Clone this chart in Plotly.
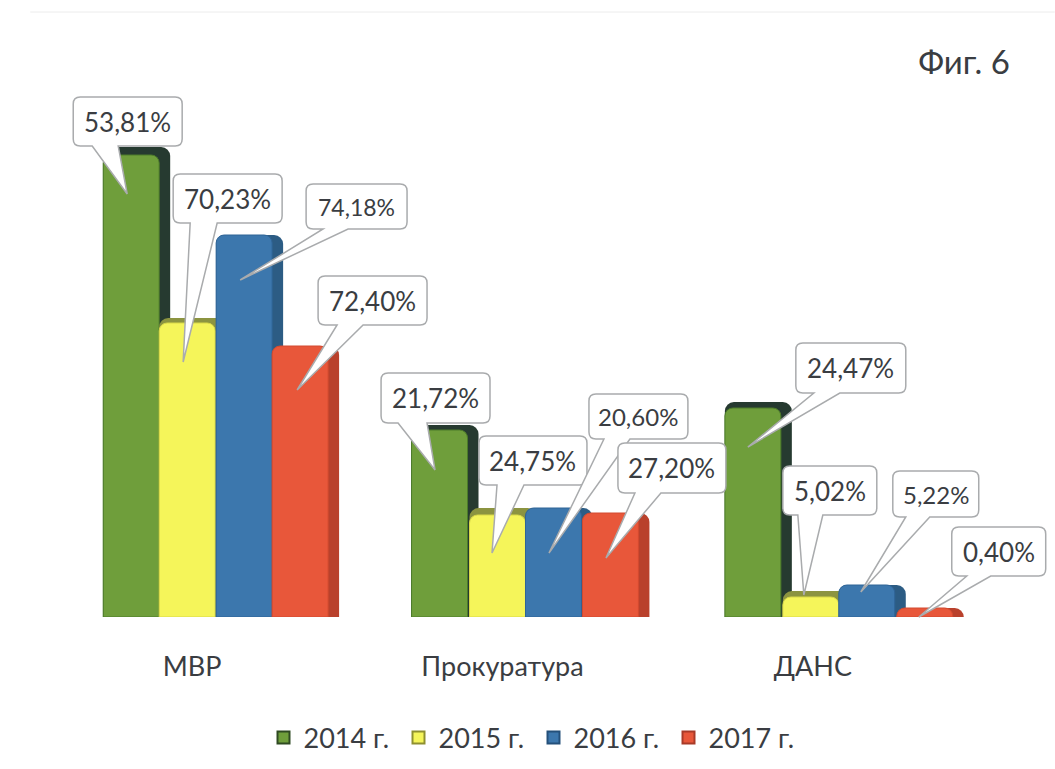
import plotly.graph_objects as go

categories = ["МВР", "Прокуратура", "ДАНС"]
years = ["2014 г.", "2015 г.", "2016 г.", "2017 г."]

# bar heights (their height does not follow the printed labels)
heights_2014 = [92.4, 37.4, 41.8]
heights_2015 = [58.8, 20.4, 4.0]
heights_2016 = [76.4, 21.8, 6.4]
heights_2017 = [54.2, 20.8, 1.8]

# rear (3-D depth) face heights
depth_2014 = [94.0, 38.4, 43.0]
depth_2015 = [59.8, 21.8, 5.2]
depth_2016 = [76.4, 21.8, 6.4]
depth_2017 = [54.2, 20.8, 1.8]

labels_2014 = ["53,81%", "21,72%", "24,47%"]
labels_2015 = ["70,23%", "24,75%", "5,02%"]
labels_2016 = ["74,18%", "20,60%", "5,22%"]
labels_2017 = ["72,40%", "27,20%", "0,40%"]

# styling / layout
W, H = 1055, 769
L, R = 36.75, 968.25
TOP, BOTTOM = 117, 617
STEP = (R - L) / 3
front_colors = ["#6f9e3b", "#f5f55a", "#3c77ad", "#e8573a"]
edge_colors = ["#4c7a2a", "#d8d848", "#2f6496", "#d24a30"]
side_colors = ["#263a30", "#8c9440", "#2c5c84", "#b9412c"]
legend_edges = ["#2f4a22", "#8f9030", "#24507a", "#a83a28"]
offset_px = [[-89, -91, -88], [-33, -33, -30], [24, 23, 26], [80, 80, 84]]
FRONT_W, SIDE_W = 56, 67
TEXT = "#3a3d42"
FONT = "Lato"

heights = [heights_2014, heights_2015, heights_2016, heights_2017]
depths = [depth_2014, depth_2015, depth_2016, depth_2017]

fig = go.Figure()
for i, year in enumerate(years):
    off = [o / STEP for o in offset_px[i]]
    fig.add_bar(x=categories, y=depths[i], offset=off, width=SIDE_W / STEP,
                marker=dict(color=side_colors[i], cornerradius=9, line=dict(width=0)),
                showlegend=False, hoverinfo="skip")
    fig.add_bar(x=categories, y=heights[i], offset=off, width=FRONT_W / STEP, name=year,
                showlegend=False,
                marker=dict(color=front_colors[i], cornerradius=8,
                            line=dict(color=edge_colors[i], width=1)))
    # square-cornered legend key
    fig.add_bar(x=categories, y=[None, None, None], name=year, hoverinfo="skip",
                marker=dict(color=front_colors[i], line=dict(color=legend_edges[i], width=2)))

# callouts: text, box (x0, y0, x1, y1), tail base (xa, xb), tip (x, y), font size
callouts = [
    (labels_2014[0], (73, 97, 182, 146), (92, 118), (127, 194), 26),
    (labels_2015[0], (173, 174, 282, 223), (190, 217), (183, 362), 26),
    (labels_2016[0], (306, 184, 407, 229), (323, 348), (240, 280), 23),
    (labels_2017[0], (318, 276, 427, 325), (337, 363), (297, 390), 26),
    (labels_2014[1], (381, 373, 490, 423), (398, 427), (435, 470), 26),
    (labels_2015[1], (479, 436, 587, 485), (497, 524), (492, 553), 26),
    (labels_2016[1], (589, 394, 688, 439), (604, 630), (549, 553), 24),
    (labels_2017[1], (618, 443, 726, 493), (635, 661), (606, 558), 26),
    (labels_2014[2], (796, 343, 906, 393), (814, 840), (748, 447), 26),
    (labels_2015[2], (783, 466, 877, 515), (798, 823), (804, 595), 26),
    (labels_2016[2], (893, 471, 979, 517), (906, 930), (861, 592), 24),
    (labels_2017[2], (952, 527, 1046, 576), (967, 991), (919, 617), 26),
]


def px(x):
    return (x - L) / (R - L)


def py(y):
    return (BOTTOM - y) / (BOTTOM - TOP)


def pt(x, y):
    return f"{px(x):.5f} {py(y):.5f}"


# faint scan edge along the top of the page
shapes = [dict(type="line", xref="paper", yref="paper", x0=px(30), x1=px(1055), y0=py(12), y1=py(12),
               line=dict(color="#ececec", width=1))]
annotations = []
for text, (x0, y0, x1, y1), (xa, xb), (tx, ty), size in callouts:
    r = 7
    path = (
        f"M {pt(x0 + r, y0)} L {pt(x1 - r, y0)} Q {pt(x1, y0)} {pt(x1, y0 + r)} "
        f"L {pt(x1, y1 - r)} Q {pt(x1, y1)} {pt(x1 - r, y1)} "
        f"L {pt(xb, y1)} L {pt(tx, ty)} L {pt(xa, y1)} "
        f"L {pt(x0 + r, y1)} Q {pt(x0, y1)} {pt(x0, y1 - r)} "
        f"L {pt(x0, y0 + r)} Q {pt(x0, y0)} {pt(x0 + r, y0)} Z"
    )
    shapes.append(dict(type="path", xref="paper", yref="paper", path=path,
                       fillcolor="white", line=dict(color="#a9abad", width=1.5)))
    annotations.append(dict(xref="paper", yref="paper", x=px((x0 + x1) / 2), y=py((y0 + y1) / 2),
                            text=text, showarrow=False, xanchor="center", yanchor="middle",
                            font=dict(family=FONT, size=size, color=TEXT)))

fig.update_layout(
    width=W, height=H, autosize=False,
    margin=dict(l=L, r=W - R, t=TOP, b=H - BOTTOM, pad=0),
    paper_bgcolor="white", plot_bgcolor="white",
    barmode="overlay",
    font=dict(family=FONT, color=TEXT),
    title=dict(text="Фиг. 6", x=1010 / W, xanchor="right", y=1 - 62 / H, yanchor="middle",
               font=dict(family=FONT, size=33, color=TEXT)),
    xaxis=dict(type="category", range=[-0.5, 2.5], showgrid=False, zeroline=False, showline=False,
               ticks="outside", ticklen=26, tickcolor="rgba(0,0,0,0)",
               tickfont=dict(family=FONT, size=27, color=TEXT)),
    yaxis=dict(range=[0, 100], visible=False, showgrid=False, zeroline=False),
    legend=dict(orientation="h", xref="container", yref="container",
                x=263.5 / W, xanchor="left", y=1 - 738 / H, yanchor="middle",
                entrywidth=90, entrywidthmode="pixels", itemclick=False, itemdoubleclick=False,
                font=dict(family=FONT, size=27, color=TEXT), bgcolor="rgba(0,0,0,0)"),
    shapes=shapes,
    annotations=annotations,
)

fig.write_html("out.html", config={"displayModeBar": False},
               post_script="document.body.style.margin='0';")
